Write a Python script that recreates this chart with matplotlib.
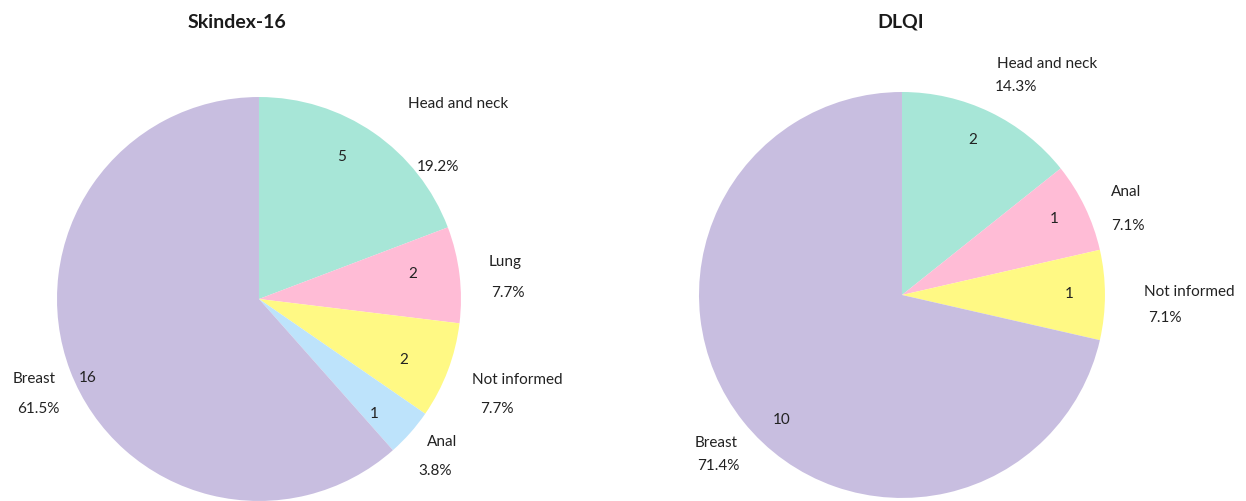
import matplotlib.pyplot as plt

plt.rcParams['font.family'] = ['Lato', 'DejaVu Sans']

# Skindex-16
sk_labels = ['Head and neck', 'Lung', 'Not informed', 'Anal', 'Breast']
sk_counts = [5, 2, 2, 1, 16]
sk_colors = ['#a7e6d7', '#ffbcd6', '#fff984', '#bde3fb', '#c8bee0']

# DLQI
dl_labels = ['Head and neck', 'Anal', 'Not informed', 'Breast']
dl_counts = [2, 1, 1, 10]
dl_colors = ['#a7e6d7', '#ffbcd6', '#fff984', '#c8bee0']

# where the count / name / percent texts sit (pie radius units)
sk_num_pos = [(0.411, 0.708), (0.762, 0.129), (0.718, -0.297), (0.569, -0.564), (-0.847, -0.386)]
sk_name_pos = [(0.985, 0.97), (1.218, 0.188), (1.277, -0.396), (0.906, -0.703), (-1.114, -0.391)]
sk_pct_pos = [(0.886, 0.658), (1.233, 0.035), (1.178, -0.54), (0.871, -0.847), (-1.094, -0.54)]
dl_num_pos = [(0.350, 0.768), (0.749, 0.379), (0.823, 0.010), (-0.591, -0.611)]
dl_name_pos = [(0.714, 1.143), (1.103, 0.512), (1.414, 0.02), (-0.916, -0.724)]
dl_pct_pos = [(0.562, 1.03), (1.113, 0.345), (1.296, -0.108), (-0.906, -0.837)]

txt_color = '#222222'

fig = plt.figure(figsize=(12.46, 5.02), dpi=100)
ax1 = fig.add_axes([0.04575, 0.0, 0.3242, 0.8048])
ax2 = fig.add_axes([0.561, 0.006, 0.3258, 0.8088])


def draw(ax, labels, counts, colors, num_pos, name_pos, pct_pos):
    total = sum(counts)
    ax.pie(counts, colors=colors, startangle=90, counterclock=False, radius=1)
    for i in range(len(counts)):
        pct = '%.1f%%' % (counts[i] / total * 100)
        ax.text(num_pos[i][0], num_pos[i][1], str(counts[i]), ha='center', va='center',
                fontsize=11, color=txt_color)
        ax.text(name_pos[i][0], name_pos[i][1], labels[i], ha='center', va='center',
                fontsize=11, color=txt_color, clip_on=False)
        ax.text(pct_pos[i][0], pct_pos[i][1], pct, ha='center', va='center',
                fontsize=11, color=txt_color, clip_on=False)
    ax.set_xlim(-1, 1)
    ax.set_ylim(-1, 1)
    ax.set_aspect('equal')
    ax.axis('off')


draw(ax1, sk_labels, sk_counts, sk_colors, sk_num_pos, sk_name_pos, sk_pct_pos)
draw(ax2, dl_labels, dl_counts, dl_colors, dl_num_pos, dl_name_pos, dl_pct_pos)

fig.text(237 / 1246, 1 - 22 / 502, 'Skindex-16', ha='center', va='center', fontsize=14,
         fontweight='bold', color='#1a1a1a')
fig.text(901 / 1246, 1 - 22 / 502, 'DLQI', ha='center', va='center', fontsize=14,
         fontweight='bold', color='#1a1a1a')

fig.savefig('out.png', dpi=100)
